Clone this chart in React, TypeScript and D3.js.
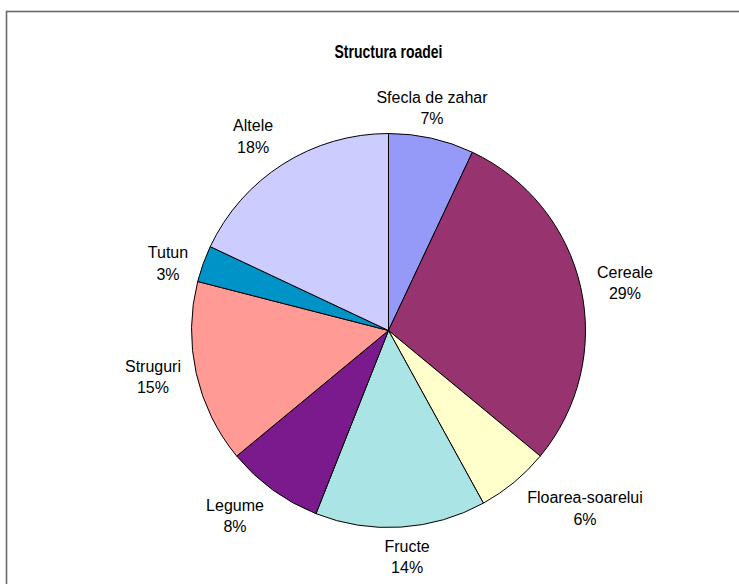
import React from "react";
import * as d3 from "d3";

const categories = ["Sfecla de zahar", "Cereale", "Floarea-soarelui", "Fructe", "Legume", "Struguri", "Tutun", "Altele"];
const values = [7, 29, 6, 14, 8, 15, 3, 18];
const colors = ["#9599F8", "#973470", "#FFFFCC", "#ABE4E4", "#7A1A8C", "#FF9A94", "#0093C8", "#CCCCFF"];
const title = "Structura roadei";

// label layout: distance from centre and angle adjustment (degrees)
const labelDist = [227, 241.2, 265.1, 227, 240.5, 240, 230.5, 236.6];
const labelAngleAdj = [-1.55, 1.24, -8.23, -1.1, 3.65, 1.5, -2.85, -2.5];

const W = 739;
const H = 584;
const cx = 388.5;
const cy = 330.5;
const R = 197;

export default function App() {
  const pie = d3.pie<number>().sort(null).value((d) => d);
  const arcs = pie(values);
  const arcGen = d3.arc<d3.PieArcDatum<number>>().innerRadius(0).outerRadius(R);
  const total = d3.sum(values);
  const font = "'Liberation Sans', Arial, sans-serif";

  return (
    <svg
      width={W}
      height={H}
      style={{ position: "fixed", left: 0, top: 0, background: "#fff" }}
      fontFamily={font}
    >
      <rect x={0} y={0} width={W} height={H} fill="#fff" />
      <rect x={6.5} y={11.5} width={W + 20} height={H + 20} fill="none" stroke="#6a6a6a" strokeWidth={1.6} />
      <text
        x={cx}
        y={57.7}
        textAnchor="middle"
        fontWeight="bold"
        fontSize={18}
        textLength={108}
        lengthAdjust="spacingAndGlyphs"
        fill="#000"
      >
        {title}
      </text>
      <g transform={`translate(${cx},${cy})`}>
        {arcs.map((a, i) => (
          <path key={i} d={arcGen(a) || ""} fill={colors[i]} stroke="#000" strokeWidth={1} />
        ))}
      </g>
      {arcs.map((a, i) => {
        const mid = (a.startAngle + a.endAngle) / 2 + (labelAngleAdj[i] * Math.PI) / 180;
        const x = cx + labelDist[i] * Math.sin(mid);
        const y = cy - labelDist[i] * Math.cos(mid);
        const pct = Math.round((values[i] / total) * 100) + "%";
        return (
          <text key={i} textAnchor="middle" fontSize={16} fill="#000">
            <tspan x={x} y={y - 5}>{categories[i]}</tspan>
            <tspan x={x} y={y + 16.5}>{pct}</tspan>
          </text>
        );
      })}
    </svg>
  );
}
